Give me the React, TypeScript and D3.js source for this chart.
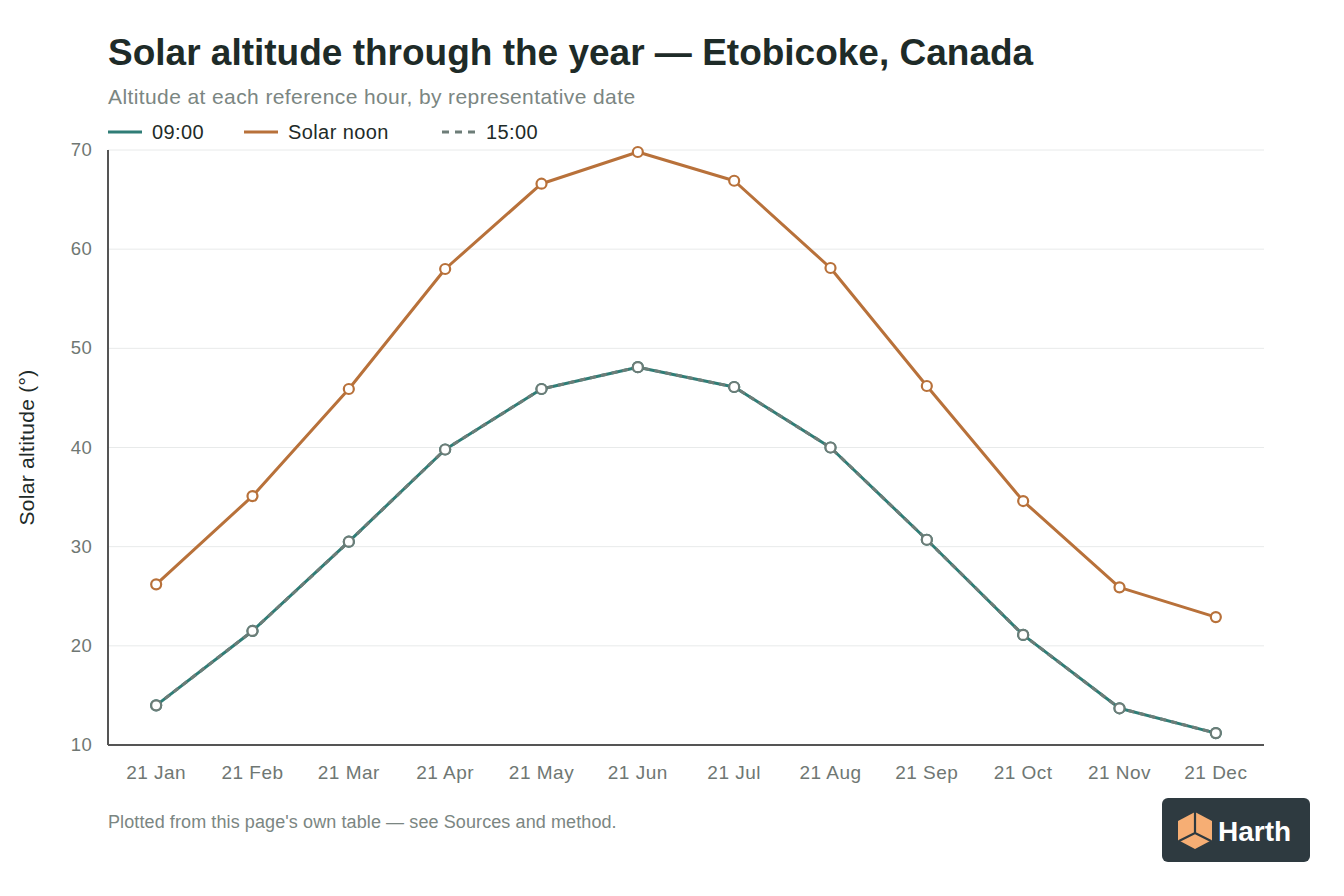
import { line, scaleLinear, scalePoint } from "d3";

// Representative dates (21st of each month)
const dates = ["21 Jan", "21 Feb", "21 Mar", "21 Apr", "21 May", "21 Jun", "21 Jul", "21 Aug", "21 Sep", "21 Oct", "21 Nov", "21 Dec"];

// Solar altitude in degrees
const morning = [14.0, 21.5, 30.5, 39.8, 45.9, 48.1, 46.1, 40.0, 30.7, 21.1, 13.7, 11.2];
const noon = [26.2, 35.1, 45.9, 58.0, 66.6, 69.8, 66.9, 58.1, 46.2, 34.6, 25.9, 22.9];
const afternoon = [14.0, 21.5, 30.5, 39.8, 45.9, 48.1, 46.1, 40.0, 30.7, 21.1, 13.7, 11.2];

const yTicks = [10, 20, 30, 40, 50, 60, 70];

const FONT = "'Helvetica Neue', Helvetica, Arial, 'Liberation Sans', sans-serif";

type Series = { name: string; values: number[]; color: string; dash?: string };

const series: Series[] = [
    { name: "09:00", values: morning, color: "#2f7d76" },
    { name: "Solar noon", values: noon, color: "#b8713a" },
    { name: "15:00", values: afternoon, color: "#6d7d78", dash: "6 5" },
];

export default function App() {
    const width = 1344;
    const height = 896;
    const margin = { top: 150, right: 80, bottom: 151, left: 108 };

    const x = scalePoint<string>()
        .domain(dates)
        .range([margin.left, width - margin.right])
        .padding(0.5);
    const y = scaleLinear()
        .domain([10, 70])
        .range([height - margin.bottom, margin.top]);

    const path = line<number>()
        .x((_, i) => x(dates[i]) ?? 0)
        .y((d) => y(d));

    return (
        <svg width={width} height={height} style={{ position: "absolute", left: 0, top: 0, background: "#fff" }} fontFamily={FONT}>
            {/* Header */}
            <text x={108} y={65} fontSize={37} fontWeight={700} fill="#1e2b28">
                Solar altitude through the year — Etobicoke, Canada
            </text>
            <text x={108} y={104} fontSize={21} fill="#7b8682" letterSpacing={0.4}>
                Altitude at each reference hour, by representative date
            </text>

            {/* Legend */}
            {series.map((s, i) => {
                const lx = [108, 244, 442][i];
                return (
                    <g key={s.name} transform={`translate(${lx},132)`}>
                        <line x1={0} x2={34} y1={0} y2={0} stroke={s.color} strokeWidth={3} strokeDasharray={s.dash ? "7 6" : undefined} />
                        <text x={44} y={7} fontSize={20} fill="#1e2b28" letterSpacing={0.4}>
                            {s.name}
                        </text>
                    </g>
                );
            })}

            {/* Grid */}
            {yTicks.map((t) => (
                <g key={t}>
                    <line x1={margin.left} x2={width - margin.right} y1={y(t)} y2={y(t)} stroke="#e8eaea" strokeWidth={1} />
                    <text x={92} y={y(t) + 6} textAnchor="end" fontSize={18.5} fill="#6f7773" letterSpacing={0.3}>
                        {t}
                    </text>
                </g>
            ))}

            {/* Axes */}
            <line x1={margin.left} x2={margin.left} y1={margin.top} y2={height - margin.bottom} stroke="#555" strokeWidth={2} />
            <line x1={margin.left} x2={width - margin.right} y1={height - margin.bottom} y2={height - margin.bottom} stroke="#555" strokeWidth={2} />

            {dates.map((d) => (
                <text key={d} x={x(d)} y={height - margin.bottom + 34} textAnchor="middle" fontSize={19} fill="#6f7773" letterSpacing={0.5}>
                    {d}
                </text>
            ))}

            <text transform={`translate(34,${(margin.top + height - margin.bottom) / 2}) rotate(-90)`} textAnchor="middle" fontSize={21} fill="#1e2b28" letterSpacing={0.3}>
                Solar altitude (°)
            </text>

            {/* Lines */}
            {series.map((s) => (
                <path key={s.name} d={path(s.values) ?? ""} fill="none" stroke={s.color} strokeWidth={3} strokeDasharray={s.dash} strokeLinejoin="round" />
            ))}

            {/* Markers */}
            {series.map((s) => (
                <g key={s.name}>
                    {s.values.map((v, i) => (
                        <circle key={i} cx={x(dates[i])} cy={y(v)} r={5} fill="#fff" stroke={s.color} strokeWidth={2.2} />
                    ))}
                </g>
            ))}

            {/* Footnote */}
            <text x={108} y={828} fontSize={18} fill="#7b8682" letterSpacing={0.1}>
                Plotted from this page's own table — see Sources and method.
            </text>

            {/* Logo */}
            <g transform="translate(1162,798)">
                <rect width={148} height={64} rx={6} fill="#2e3a40" />
                <g transform="translate(33,32)">
                    <path d="M0 -18 L17 -9 L17 10 L0 19 L-17 10 L-17 -9 Z" fill="#f6ae74" />
                    <path d="M0 -18 L0 3 M0 3 L-16 11 M0 3 L16 11" stroke="#2e3a40" strokeWidth={2.2} fill="none" />
                </g>
                <text x={56} y={43} fontSize={28} fontWeight={700} fill="#fff" fontFamily="Arial, 'Liberation Sans', sans-serif">
                    Harth
                </text>
            </g>
        </svg>
    );
}
